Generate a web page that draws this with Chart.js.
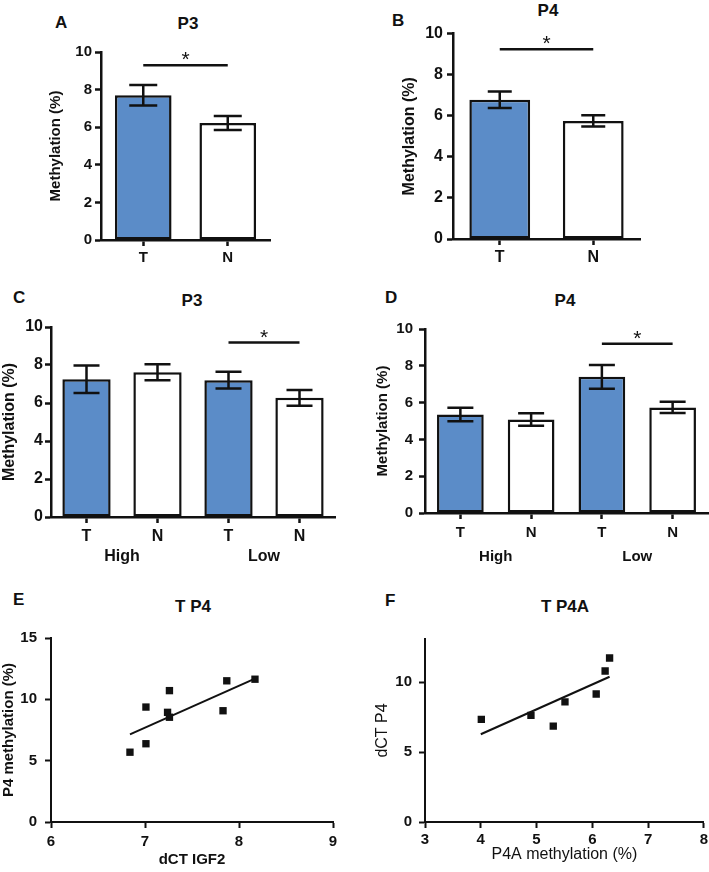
<!DOCTYPE html>
<html>
<head>
<meta charset="utf-8">
<script src="https://cdn.jsdelivr.net/npm/chart.js@4.4.0/dist/chart.umd.min.js"></script>
<style>
  body { margin: 0; background: #fff; overflow: hidden; }
  #page { position: relative; width: 709px; height: 872px; font-family: 'Liberation Sans', Arial, sans-serif; color: #111; }
  .box { position: absolute; }
  .letter { position: absolute; font-weight: bold; font-size: 17px; line-height: 1; }
  .title { position: absolute; font-weight: bold; font-size: 17px; line-height: 1; white-space: nowrap; transform: translate(-50%, -50%); }
</style>
</head>
<body>
<div id="page">
  <div class="letter" style="left:55px;top:14px">A</div>
  <div class="letter" style="left:392px;top:12px">B</div>
  <div class="letter" style="left:13px;top:289px">C</div>
  <div class="letter" style="left:385px;top:289px">D</div>
  <div class="letter" style="left:13px;top:591px">E</div>
  <div class="letter" style="left:385px;top:592px">F</div>

  <div class="title" style="left:188px;top:23px">P3</div>
  <div class="title" style="left:548px;top:10px">P4</div>
  <div class="title" style="left:192px;top:300px">P3</div>
  <div class="title" style="left:565px;top:300px">P4</div>
  <div class="title" style="left:193px;top:606px">T P4</div>
  <div class="title" style="left:565px;top:606px">T P4A</div>

  <div class="box" style="left:41px;top:40px;width:239px;height:230px"><canvas id="p3-tn"></canvas></div>
  <div class="box" style="left:395px;top:20px;width:255px;height:249px"><canvas id="p4-tn"></canvas></div>
  <div class="box" style="left:0px;top:315px;width:345px;height:251px"><canvas id="p3-group"></canvas></div>
  <div class="box" style="left:365px;top:314px;width:344px;height:252px"><canvas id="p4-group"></canvas></div>
  <div class="box" style="left:0px;top:621px;width:343px;height:251px"><canvas id="igf2-scatter"></canvas></div>
  <div class="box" style="left:365px;top:623px;width:346px;height:249px"><canvas id="p4a-scatter"></canvas></div>
</div>

<script>
// ---- data ----
const tnLabels = ['T', 'N'];
const groupTicks = ['T', 'N', 'T', 'N'];
const groupNames = ['High', 'Low'];

const p3Means = [7.7, 6.22];
const p3Errors = [0.55, 0.37];
const p4Means = [6.78, 5.75];
const p4Errors = [0.4, 0.27];

const p3GroupMeans = [7.25, 7.62, 7.2, 6.27];
const p3GroupErrors = [0.72, 0.42, 0.44, 0.42];
const p4GroupMeans = [5.35, 5.08, 7.4, 5.74];
const p4GroupErrors = [0.37, 0.34, 0.65, 0.31];

// significance: [from bar, to bar, height]
const p3Sig = [0, 1, 9.3];
const p4Sig = [0, 1, 9.24];
const p3GroupSig = [2, 3, 9.18];
const p4GroupSig = [2, 3, 9.2];

const igf2Dct = [6.84, 7.01, 7.01, 7.24, 7.26, 7.26, 7.83, 7.87, 8.17];
const p4Methylation = [5.69, 6.38, 9.37, 8.94, 8.54, 10.71, 9.07, 11.51, 11.64];
const igf2FitX = [6.84, 8.17];
const igf2FitY = [7.14, 11.69];

const p4aMethylation = [4.01, 4.9, 5.3, 5.51, 6.07, 6.23, 6.31];
const p4Dct = [7.35, 7.63, 6.86, 8.6, 9.16, 10.81, 11.74];
const p4aFitX = [4.0, 6.31];
const p4aFitY = [6.28, 10.4];

const BLUE = '#5b8cc8';
const INK = '#111111';
const FONT = "'Liberation Sans', Arial, sans-serif";

Chart.defaults.font.family = FONT;
Chart.defaults.color = INK;
Chart.defaults.animation = false;

const errorBars = {
  id: 'errorBars',
  afterDatasetsDraw(chart, args, opts) {
    if (!opts.errors) return;
    const y = chart.scales.y;
    const values = chart.data.datasets[0].data;
    const c = chart.ctx;
    c.save();
    c.strokeStyle = INK;
    c.lineWidth = 2.5;
    chart.getDatasetMeta(0).data.forEach((bar, i) => {
      const top = y.getPixelForValue(values[i] + opts.errors[i]);
      const bot = y.getPixelForValue(values[i] - opts.errors[i]);
      c.beginPath();
      c.moveTo(bar.x, top); c.lineTo(bar.x, bot);
      c.moveTo(bar.x - opts.cap, top); c.lineTo(bar.x + opts.cap, top);
      c.moveTo(bar.x - opts.cap, bot); c.lineTo(bar.x + opts.cap, bot);
      c.stroke();
    });
    c.restore();
  }
};

const sigBar = {
  id: 'sigBar',
  afterDatasetsDraw(chart, args, opts) {
    if (!opts.pair) return;
    const x = chart.scales.x, y = chart.scales.y;
    const x1 = x.getPixelForValue(opts.pair[0]);
    const x2 = x.getPixelForValue(opts.pair[1]);
    const py = y.getPixelForValue(opts.pair[2]);
    const c = chart.ctx;
    c.save();
    c.strokeStyle = INK;
    c.lineWidth = 2.5;
    c.beginPath();
    c.moveTo(x1, py); c.lineTo(x2, py);
    c.stroke();
    c.fillStyle = INK;
    c.font = '21px ' + FONT;
    c.textAlign = 'center';
    c.textBaseline = 'alphabetic';
    c.fillText('*', (x1 + x2) / 2, py + 1);
    c.restore();
  }
};

function boldFont(size) {
  return { family: FONT, size: size, weight: 'bold' };
}

function yAxis(cfg) {
  return {
    min: cfg.min, max: cfg.max,
    ticks: { stepSize: cfg.step, padding: cfg.tickPad, font: cfg.tickFont, color: INK, includeBounds: false },
    grid: { drawOnChartArea: false, drawTicks: true, tickLength: 6, tickWidth: cfg.line, tickColor: INK },
    border: { display: true, color: INK, width: cfg.line },
    title: { display: true, text: cfg.title, font: cfg.titleFont, color: INK, padding: { top: cfg.titlePad, bottom: 0 } },
    afterFit(scale) { scale.width = cfg.width; }
  };
}

function barChart(el, cfg) {
  const scales = {
    x: {
      type: 'category', offset: true,
      ticks: { padding: cfg.xTickPad, font: boldFont(cfg.fontSize), color: INK },
      grid: { offset: false, drawOnChartArea: false, drawTicks: true, tickLength: 6, tickWidth: 2.5, tickColor: INK },
      border: { display: true, color: INK, width: 2.5 },
      afterFit(scale) { scale.height = cfg.xHeight; }
    },
    y: yAxis({ min: 0, max: 10, step: 2, tickPad: cfg.yTickPad, tickFont: boldFont(cfg.fontSize), line: 2.5,
               title: 'Methylation (%)', titleFont: boldFont(cfg.fontSize), titlePad: cfg.titlePad, width: cfg.yWidth })
  };
  if (cfg.groups) {
    scales.x2 = {
      type: 'category', labels: cfg.groups, position: 'bottom', offset: true, weight: 1,
      ticks: { padding: cfg.groupPad, font: boldFont(cfg.fontSize), color: INK },
      grid: { display: false, drawTicks: false, tickLength: 0 },
      border: { display: false },
      afterFit(scale) { scale.height = cfg.groupHeight; }
    };
  }
  return new Chart(el, {
    type: 'bar',
    data: {
      labels: cfg.labels,
      datasets: [{
        data: cfg.values,
        backgroundColor: cfg.labels.map(l => l === 'T' ? BLUE : '#ffffff'),
        borderColor: INK,
        borderWidth: 2.5,
        borderSkipped: false,
        categoryPercentage: 1,
        barPercentage: cfg.barPct
      }]
    },
    options: {
      responsive: true,
      maintainAspectRatio: false,
      layout: { padding: { top: 12, right: cfg.padRight, left: 0, bottom: 0 } },
      plugins: {
        legend: { display: false },
        tooltip: { enabled: false },
        errorBars: { errors: cfg.errors, cap: cfg.cap },
        sigBar: { pair: cfg.sig }
      },
      scales: scales
    },
    plugins: [errorBars, sigBar]
  });
}

function scatterChart(el, cfg) {
  return new Chart(el, {
    type: 'scatter',
    data: {
      datasets: [{
        data: cfg.xs.map((x, i) => ({ x: x, y: cfg.ys[i] })),
        pointStyle: 'rect',
        pointRadius: 5.2,
        backgroundColor: INK,
        borderWidth: 0
      }, {
        data: cfg.fitX.map((x, i) => ({ x: x, y: cfg.fitY[i] })),
        showLine: true,
        pointRadius: 0,
        borderColor: INK,
        borderWidth: 2
      }]
    },
    options: {
      responsive: true,
      maintainAspectRatio: false,
      layout: { padding: { top: 12, right: cfg.padRight, left: 0, bottom: 0 } },
      plugins: { legend: { display: false }, tooltip: { enabled: false } },
      scales: {
        x: {
          min: cfg.xMin, max: cfg.xMax,
          ticks: { stepSize: 1, padding: cfg.xTickPad, font: cfg.tickFont, color: INK },
          grid: { drawOnChartArea: false, drawTicks: true, tickLength: 6, tickWidth: 2, tickColor: INK },
          border: { display: true, color: INK, width: 2 },
          title: { display: true, text: cfg.xTitle, font: cfg.titleFont, color: INK, padding: { top: 0, bottom: cfg.xTitlePad } },
          afterFit(scale) { scale.height = 50; }
        },
        y: yAxis({ min: 0, max: cfg.yMax, step: 5, tickPad: cfg.yTickPad, tickFont: cfg.tickFont, line: 2,
                   title: cfg.yTitle, titleFont: cfg.titleFont, titlePad: cfg.titlePad, width: cfg.yWidth })
      }
    }
  });
}

barChart(document.getElementById('p3-tn'), {
  labels: tnLabels, values: p3Means, errors: p3Errors, sig: p3Sig, fontSize: 15,
  barPct: 0.67, cap: 14, yWidth: 60, titlePad: 6, yTickPad: 3, xTickPad: 3, xHeight: 30, padRight: 10
});

barChart(document.getElementById('p4-tn'), {
  labels: tnLabels, values: p4Means, errors: p4Errors, sig: p4Sig, fontSize: 16,
  barPct: 0.65, cap: 12, yWidth: 58, titlePad: 5.4, yTickPad: 4, xTickPad: 3.4, xHeight: 30, padRight: 10
});

barChart(document.getElementById('p3-group'), {
  labels: groupTicks, values: p3GroupMeans, errors: p3GroupErrors, sig: p3GroupSig, fontSize: 16,
  groups: groupNames, groupPad: 1.4, groupHeight: 20,
  barPct: 0.68, cap: 13, yWidth: 51, titlePad: 0, yTickPad: 2, xTickPad: 4.4, xHeight: 29, padRight: 10
});

barChart(document.getElementById('p4-group'), {
  labels: groupTicks, values: p4GroupMeans, errors: p4GroupErrors, sig: p4GroupSig, fontSize: 15,
  groups: groupNames, groupPad: 6, groupHeight: 24,
  barPct: 0.66, cap: 13, yWidth: 60, titlePad: 9, yTickPad: 6, xTickPad: 5, xHeight: 29, padRight: 1
});

scatterChart(document.getElementById('igf2-scatter'), {
  xs: igf2Dct, ys: p4Methylation, fitX: igf2FitX, fitY: igf2FitY,
  xMin: 6, xMax: 9, yMax: 15,
  xTitle: 'dCT IGF2', yTitle: 'P4 methylation (%)',
  tickFont: boldFont(15), titleFont: boldFont(15),
  yWidth: 51, titlePad: 0, yTickPad: 8, xTickPad: 5, xTitlePad: 3, padRight: 10
});

scatterChart(document.getElementById('p4a-scatter'), {
  xs: p4aMethylation, ys: p4Dct, fitX: p4aFitX, fitY: p4aFitY,
  xMin: 3, xMax: 8, yMax: 13.1,
  xTitle: 'P4A methylation (%)', yTitle: 'dCT P4',
  tickFont: boldFont(15), titleFont: { family: FONT, size: 16, weight: 'normal' },
  yWidth: 60, titlePad: 8.4, yTickPad: 7, xTickPad: 3, xTitlePad: 7.4, padRight: 6
});
</script>
</body>
</html>
